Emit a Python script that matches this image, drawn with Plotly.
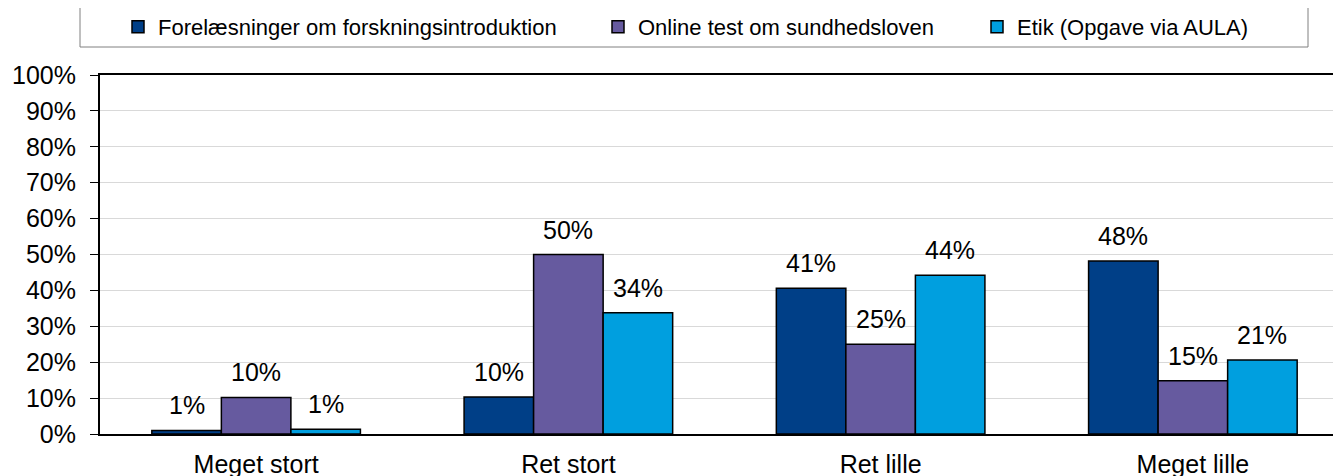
import plotly.graph_objects as go

categories = ["Meget stort", "Ret stort", "Ret lille", "Meget lille"]
series_names = ["Forelæsninger om forskningsintroduktion", "Online test om sundhedsloven", "Etik (Opgave via AULA)"]
forelaesninger = [1.0, 10.3, 40.6, 48.2]
online_test = [10.2, 50.0, 25.0, 14.8]
etik = [1.3, 33.8, 44.2, 20.6]
y_ticks = list(range(0, 101, 10))

colors = ["#003F87", "#665A9F", "#009FDF"]
series_values = [forelaesninger, online_test, etik]

# the page body adds an 8px offset; positions below are expressed in page pixels
OFF = 8
W, H = 1341, 476
PLOT_L, PLOT_R, PLOT_T, PLOT_B = 100, 1349, 75, 434
ML, MR, MT, MB = PLOT_L - OFF, W - (PLOT_R - OFF), PLOT_T - OFF, H - (PLOT_B - OFF)
BARGAP = 0.332
FONT = "Liberation Sans, Arial, sans-serif"
LEGEND_NAMES = ["legend", "legend2", "legend3"]
LEGEND_X = [118, 598, 977]

fig = go.Figure()
for name, vals, col, lg in zip(series_names, series_values, colors, LEGEND_NAMES):
    fig.add_trace(go.Bar(
        name=name, x=categories, y=vals, legend=lg,
        marker=dict(color=col, line=dict(color="black", width=1.5)),
        hoverinfo="skip",
    ))

plot_w = W - ML - MR
plot_h = H - MT - MB
cat_w = plot_w / len(categories)
bar_px = cat_w * (1 - BARGAP) / len(series_names)

annotations = []
for i, vals in enumerate(series_values):
    shift = (i - (len(series_names) - 1) / 2) * bar_px
    for c, v in zip(categories, vals):
        annotations.append(dict(
            x=c, y=v, xref="x", yref="y", xshift=shift, yshift=9,
            yanchor="bottom", xanchor="center", showarrow=False,
            text=f"{round(v):d}%", font=dict(size=25, color="black", family=FONT),
        ))

def py(page_y):
    return (PLOT_B - page_y) / plot_h
def pxx(page_x):
    return (page_x - PLOT_L) / plot_w

legend_style = dict(
    orientation="h", xanchor="left", y=py(27), yanchor="middle",
    font=dict(size=22, color="black", family=FONT),
    bgcolor="rgba(0,0,0,0)", borderwidth=0, itemwidth=30,
)
legends = {lg: dict(legend_style, x=pxx(lx)) for lg, lx in zip(LEGEND_NAMES, LEGEND_X)}

fig.update_layout(
    width=W, height=H,
    margin=dict(l=ML, r=MR, t=MT, b=MB, autoexpand=False),
    paper_bgcolor="white", plot_bgcolor="white",
    barmode="group", bargap=BARGAP, bargroupgap=0,
    font=dict(family=FONT, size=25, color="black"),
    showlegend=True,
    annotations=annotations,
    shapes=[dict(
        type="rect", xref="paper", yref="paper",
        x0=pxx(80), x1=pxx(1308), y0=py(47), y1=py(7),
        line=dict(color="#808080", width=1), fillcolor="rgba(0,0,0,0)", layer="above",
    )],
    xaxis=dict(
        type="category", showgrid=False, showline=True, linecolor="black", linewidth=2,
        mirror=True, ticks="", tickfont=dict(size=25, color="black"), ticklabelstandoff=7,
    ),
    yaxis=dict(
        range=[0, 100], tickvals=y_ticks, ticktext=[f"{t}%" for t in y_ticks],
        showgrid=True, gridcolor="#D9D9D9", gridwidth=1,
        showline=True, linecolor="black", linewidth=2, mirror=True,
        ticks="outside", ticklen=8, tickcolor="black", tickwidth=1,
        ticklabelstandoff=9,
        zeroline=False, tickfont=dict(size=25, color="black"),
    ),
    **legends,
)

fig.write_html("out.html")
